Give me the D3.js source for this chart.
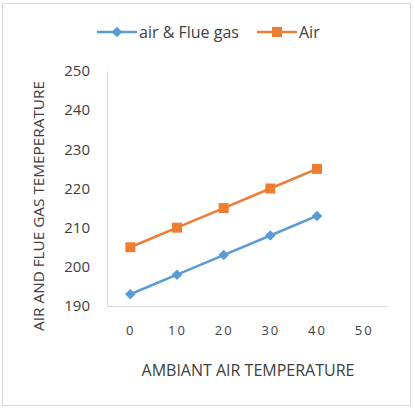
<!DOCTYPE html>
<html>
<head>
<meta charset="utf-8">
<script src="https://cdn.jsdelivr.net/npm/d3@7"></script>
<style>
  body { margin: 0; background: #fff; }
  text { font-family: "Open Sans", "Liberation Sans", sans-serif; fill: #404040; }
</style>
</head>
<body>
<div id="chart"></div>
<script>
// Chart data
const temps = ["0", "10", "20", "30", "40", "50"];
const flueGas = [193, 198, 203, 208, 213];
const air = [205, 210, 215, 220, 225];
const yTicks = [190, 200, 210, 220, 230, 240, 250];

const W = 415, H = 417;
const margin = { top: 71, right: 28, bottom: 111, left: 107 };
const width = W - margin.left - margin.right;
const height = H - margin.top - margin.bottom;

const svg = d3.select("#chart")
    .append("svg")
    .attr("width", W)
    .attr("height", H);

// outer frame
svg.append("rect")
    .attr("x", 2.5).attr("y", 3.5)
    .attr("width", 408).attr("height", 402)
    .attr("fill", "#fff")
    .attr("stroke", "#d9d9d9");

const g = svg.append("g")
    .attr("transform", `translate(${margin.left},${margin.top})`);

const x = d3.scalePoint().domain(temps).range([0, width]).padding(0.5);
const y = d3.scaleLinear().domain([190, 250]).range([height, 0]);

// axes
const xAxis = g.append("g")
    .attr("transform", `translate(0,${height})`)
    .call(d3.axisBottom(x).tickSize(0).tickPadding(20));
xAxis.select(".domain").attr("stroke", "#d9d9d9");
xAxis.selectAll("text")
    .style("font-size", "13px")
    .style("font-family", "'Open Sans', sans-serif")
    .style("letter-spacing", "2px")
    .attr("fill", "#404040");

const yAxis = g.append("g")
    .call(d3.axisLeft(y).tickValues(yTicks).tickSize(0).tickPadding(17));
yAxis.select(".domain").attr("stroke", "#d9d9d9");
yAxis.selectAll("text")
    .style("font-size", "15px")
    .style("font-family", "'Open Sans', sans-serif")
    .attr("fill", "#404040");

// axis titles
g.append("text")
    .attr("x", 141)
    .attr("y", height + 70)
    .attr("text-anchor", "middle")
    .style("font-size", "16px")
    .text("AMBIANT AIR TEMPERATURE");

g.append("text")
    .attr("transform", "rotate(-90)")
    .attr("x", -(206 - margin.top))
    .attr("y", 38 - margin.left + 6)
    .attr("text-anchor", "middle")
    .style("font-size", "15.3px")
    .text("AIR AND FLUE GAS TEMEPERATURE");

const series = [
    { name: "air & Flue gas", values: flueGas, color: "#5B9BD5", rot: 45, size: 55 },
    { name: "Air", values: air, color: "#ED7D31", rot: 0, size: 100 }
];

const line = d3.line()
    .x((d, i) => x(temps[i]))
    .y(d => y(d));

series.forEach(s => {
    g.append("path")
        .datum(s.values)
        .attr("fill", "none")
        .attr("stroke", s.color)
        .attr("stroke-width", 2.5)
        .attr("d", line);

    g.selectAll(null)
        .data(s.values)
        .enter()
        .append("path")
        .attr("transform", (d, i) => `translate(${x(temps[i])},${y(d)}) rotate(${s.rot})`)
        .attr("d", d3.symbol().type(d3.symbolSquare).size(s.size))
        .attr("fill", s.color);
});

// legend
const legendX = [97, 257];
const legend = svg.selectAll(".legend")
    .data(series)
    .enter()
    .append("g")
    .attr("class", "legend")
    .attr("transform", (d, i) => `translate(${legendX[i]},32)`);

legend.append("line")
    .attr("x1", 0).attr("x2", 40)
    .attr("stroke", d => d.color)
    .attr("stroke-width", 2.5);

legend.append("path")
    .attr("transform", d => `translate(20,0) rotate(${d.rot})`)
    .attr("d", d => d3.symbol().type(d3.symbolSquare).size(d.size)())
    .attr("fill", d => d.color);

legend.append("text")
    .attr("x", 42)
    .attr("dy", "0.35em")
    .style("font-size", "16px")
    .text(d => d.name);
</script>
</body>
</html>
